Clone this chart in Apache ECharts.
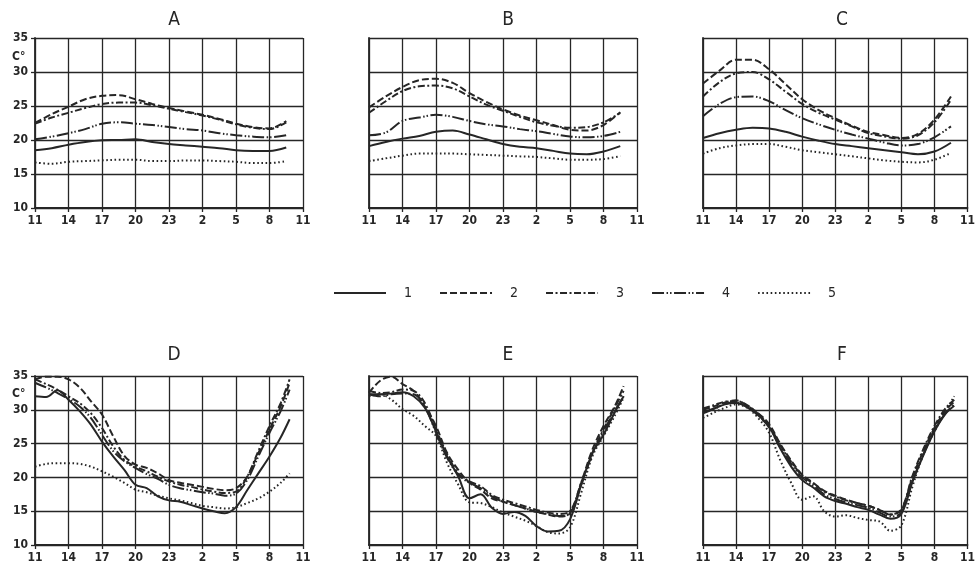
<!DOCTYPE html>
<html>
<head>
<meta charset="utf-8">
<script src="https://cdn.jsdelivr.net/npm/echarts@6/dist/echarts.min.js"></script>
<style>
  html, body { margin: 0; padding: 0; background: #fff; }
  #main { width: 978px; height: 570px; }
</style>
</head>
<body>
<div id="main"></div>
<script>
// hours after 11:00
var hoursTop = [0, 1.5, 3, 4.5, 6, 7.5, 9, 10.5, 12, 13.5, 15, 16.5, 18, 19.5, 21, 22.5];
var hoursBottom = [0, 1, 2, 3, 4, 5, 6, 7, 8, 9, 10, 11, 12, 13, 14, 15, 16, 17, 18, 19, 20, 21, 22, 22.8];
var tickLabels = ['11', '14', '17', '20', '23', '2', '5', '8', '11'];
var panelNames = ['A', 'B', 'C', 'D', 'E', 'F'];
var seriesNames = ['1', '2', '3', '4', '5'];

// panel A
var a1 = [18.5, 18.8, 19.3, 19.7, 19.95, 20, 20.1, 19.7, 19.4, 19.2, 19, 18.8, 18.5, 18.4, 18.4, 18.9];
var a2 = [22.5, 23.8, 24.9, 26, 26.5, 26.6, 26, 25.3, 24.7, 24.2, 23.7, 23.1, 22.4, 21.9, 21.7, 22.8];
var a3 = [22.4, 23.3, 24, 24.7, 25.3, 25.5, 25.5, 25.1, 24.6, 24.1, 23.6, 23, 22.3, 21.8, 21.6, 22.6];
var a4 = [20.1, 20.5, 21, 21.6, 22.4, 22.6, 22.4, 22.2, 21.9, 21.6, 21.4, 21, 20.7, 20.5, 20.4, 20.7];
var a5 = [16.7, 16.5, 16.8, 16.9, 17, 17.1, 17.1, 16.9, 16.9, 17, 17, 16.9, 16.8, 16.6, 16.6, 16.9];
// panel B
var b1 = [19.1, 19.7, 20.2, 20.6, 21.2, 21.4, 20.8, 20.1, 19.4, 19, 18.8, 18.4, 18, 17.9, 18.3, 19.1];
var b2 = [24.8, 26.4, 27.8, 28.8, 29, 28.4, 26.9, 25.6, 24.5, 23.6, 22.9, 22.2, 21.5, 21.4, 22.2, 24.1];
var b3 = [24, 25.7, 27.2, 27.9, 28, 27.6, 26.4, 25.2, 24.3, 23.4, 22.6, 22.1, 21.8, 21.9, 22.6, 24];
var b4 = [20.7, 21.1, 22.8, 23.3, 23.7, 23.4, 22.8, 22.3, 22, 21.6, 21.3, 20.9, 20.5, 20.4, 20.6, 21.2];
var b5 = [16.9, 17.3, 17.7, 18, 18, 18, 17.9, 17.8, 17.7, 17.6, 17.5, 17.3, 17.1, 17.1, 17.2, 17.6];
// panel C
var c1 = [20.3, 21, 21.5, 21.8, 21.7, 21.2, 20.5, 19.9, 19.4, 19.1, 18.8, 18.5, 18.2, 17.9, 18.3, 19.6];
var c2 = [28.3, 30.2, 31.8, 31.8, 30.4, 28.2, 26, 24.4, 23.2, 22.1, 21.2, 20.7, 20.3, 20.9, 23, 26.4];
var c3 = [26.4, 28.5, 29.8, 30, 28.9, 27.1, 25.3, 24, 23, 22, 21, 20.5, 20.2, 20.7, 22.6, 25.9];
var c4 = [23.5, 25.3, 26.3, 26.4, 25.7, 24.4, 23.2, 22.3, 21.5, 20.8, 20.2, 19.6, 19.2, 19.4, 20.4, 22];
var c5 = [18, 18.8, 19.2, 19.4, 19.4, 19, 18.5, 18.2, 17.9, 17.6, 17.3, 17, 16.8, 16.7, 17.1, 18.1];
// panel D
var d1 = [32, 31.9, 32.9, 31.5, 29.8, 27.8, 25.3, 23.1, 21.1, 18.9, 18.4, 17.2, 16.6, 16.4, 15.9, 15.4, 15, 14.7, 15.6, 18.1, 20.6, 23.1, 25.9, 28.6];
var d2 = [34.5, 34.9, 34.9, 34.5, 33.3, 31.3, 29.3, 26.1, 23.2, 21.9, 21.4, 20.6, 19.6, 19.2, 18.9, 18.6, 18.3, 18.1, 18.4, 20.1, 23.6, 27.1, 30.5, 34];
var d3 = [34.5, 33.8, 33, 32, 31, 29.5, 27.3, 24.6, 22.6, 21.6, 20.9, 20.1, 19.4, 18.9, 18.6, 18.2, 17.9, 17.7, 17.9, 20.1, 23.9, 27.6, 31, 34.5];
var d4 = [34, 33.3, 32.5, 31.6, 30.5, 28.8, 26.3, 23.9, 22.4, 21.4, 20.5, 19.8, 18.9, 18.4, 18.1, 17.8, 17.6, 17.3, 17.6, 19.6, 23.1, 26.6, 29.8, 33];
var d5 = [21.6, 22, 22.1, 22.1, 22, 21.6, 20.9, 20.1, 19.2, 18.2, 17.8, 17.3, 16.9, 16.6, 16.2, 15.8, 15.6, 15.4, 15.6, 16.2, 16.9, 17.9, 19.2, 20.6];
// panel E
var e1 = [32.3, 32.3, 32.4, 32.6, 32, 30.3, 26.8, 23.1, 20.1, 16.9, 17.5, 15.5, 14.6, 14.9, 14.3, 12.8, 12, 12.1, 13.8, 18.9, 23.6, 26.3, 29.6, 32];
var e2 = [32.5, 34.3, 34.9, 33.8, 32.8, 30.5, 27.6, 23.6, 21.1, 19.2, 18.2, 16.9, 16.4, 15.9, 15.4, 14.9, 14.5, 14.2, 14.7, 19.2, 24.1, 27.6, 30.5, 33.5];
var e3 = [32.8, 32.5, 32.6, 33, 32.8, 31, 27.1, 23.4, 20.6, 19.4, 18.7, 17.4, 16.7, 16.2, 15.7, 15.2, 14.8, 14.6, 15, 19.2, 23.6, 27.1, 30.3, 32.8];
var e4 = [32.3, 32, 32.3, 32.4, 32.3, 30.5, 26.6, 22.9, 20.4, 19.2, 18.4, 17.2, 16.4, 15.9, 15.4, 14.9, 14.6, 14.3, 14.7, 18.9, 23.4, 26.8, 29.8, 32];
var e5 = [32, 32.3, 31.5, 30.1, 29.1, 27.6, 26.1, 22.1, 18.9, 16.3, 16.2, 15.6, 14.8, 14.2, 13.6, 12.8, 11.9, 11.7, 12.6, 17.7, 23.1, 26.1, 29.1, 31.8];
// panel F
var f1 = [29.6, 30.2, 30.8, 31, 30.4, 29.2, 27.5, 24.3, 21.6, 19.6, 18.5, 17.2, 16.5, 16.1, 15.6, 15.2, 14.5, 13.9, 14.6, 19.3, 23.3, 26.8, 29.4, 30.6];
var f2 = [30, 30.5, 31.1, 31.4, 30.6, 29.5, 27.9, 25, 22.5, 20.4, 19.2, 18, 17.3, 16.7, 16.2, 15.8, 15.2, 14.5, 15.2, 20, 23.9, 27.3, 29.9, 31.2];
var f3 = [30.2, 30.7, 31.2, 31.3, 30.7, 29.4, 27.7, 24.8, 22.3, 20.3, 19.1, 17.9, 17.2, 16.6, 16.2, 15.8, 15.2, 14.5, 15.3, 20.2, 24.2, 27.6, 30.2, 31.5];
var f4 = [29.5, 30.1, 30.9, 31.1, 30.4, 29.2, 27.4, 24.5, 22, 20, 18.8, 17.5, 16.8, 16.3, 15.9, 15.5, 14.8, 14.2, 14.8, 19.5, 23.4, 27, 29.5, 30.8];
var f5 = [28.8, 29.6, 30.3, 30.8, 30.3, 28.8, 26.6, 22.6, 19.2, 16.7, 17.2, 15, 14.2, 14.4, 14, 13.7, 13.5, 12.1, 12.9, 18.6, 23.4, 26.8, 29.8, 32];

var panels = [
  { hours: hoursTop, lines: [a1, a2, a3, a4, a5] },
  { hours: hoursTop, lines: [b1, b2, b3, b4, b5] },
  { hours: hoursTop, lines: [c1, c2, c3, c4, c5] },
  { hours: hoursBottom, lines: [d1, d2, d3, d4, d5] },
  { hours: hoursBottom, lines: [e1, e2, e3, e4, e5] },
  { hours: hoursBottom, lines: [f1, f2, f3, f4, f5] }
];

var ink = '#262626';
var font = "'DejaVu Sans Condensed', 'DejaVu Sans', sans-serif";
var lineStyles = [
  { type: 'solid', width: 2 },
  { type: [7, 3], width: 2 },
  { type: [7, 2.5, 2, 2.5], width: 2 },
  { type: [12, 2.5, 1.5, 2, 1.5, 2.5], width: 2 },
  { type: [1.6, 2.6], width: 2 }
];

var lefts = [35, 369, 703];
var grids = [], xAxes = [], yAxes = [], titles = [], series = [];

panels.forEach(function (p, i) {
  var col = i % 3, row = Math.floor(i / 3);
  var top = row === 0 ? 38 : 376;
  var h = row === 0 ? 170 : 169;
  grids.push({ left: lefts[col], top: top, width: 268, height: h });
  titles.push({
    text: panelNames[i],
    left: lefts[col] + 134,
    textAlign: 'center',
    top: row === 0 ? 6 : 341,
    textStyle: { fontFamily: font, fontWeight: 'normal', fontSize: 19, color: ink }
  });
  xAxes.push({
    type: 'value', gridIndex: i, min: 0, max: 24, interval: 3,
    axisLine: { show: true, lineStyle: { color: ink, width: 1.8 } },
    axisTick: { show: true, length: 4, lineStyle: { color: ink, width: 1.3 } },
    splitLine: { show: true, lineStyle: { color: ink, width: 1.3 } },
    axisLabel: {
      margin: 7, color: ink, fontFamily: font, fontWeight: 'bold', fontSize: 12,
      formatter: function (v) { return tickLabels[Math.round(v / 3)]; }
    }
  });
  yAxes.push({
    type: 'value', gridIndex: i, min: 10, max: 35, interval: 5,
    axisLine: { show: true, lineStyle: { color: ink, width: 1.8 } },
    axisTick: { show: col === 0, length: 4, lineStyle: { color: ink, width: 1.3 } },
    splitLine: { show: true, lineStyle: { color: ink, width: 1.3 } },
    axisLabel: {
      show: col === 0, margin: 7, color: ink, fontFamily: font, fontWeight: 'bold', fontSize: 12
    }
  });
  p.lines.forEach(function (vals, k) {
    series.push({
      name: seriesNames[k],
      type: 'line',
      xAxisIndex: i, yAxisIndex: i,
      data: p.hours.map(function (hr, j) { return [hr, vals[j]]; }),
      smooth: 0.35,
      symbol: 'none',
      clip: true,
      lineStyle: Object.assign({ color: ink }, lineStyles[k]),
      itemStyle: { color: ink },
      z: 3
    });
  });
});

var chart = echarts.init(document.getElementById('main'));
chart.setOption({
  backgroundColor: '#fff',
  animation: false,
  title: titles,
  grid: grids,
  xAxis: xAxes,
  yAxis: yAxes,
  legend: {
    data: seriesNames,
    left: 333, top: 286, padding: 0,
    itemWidth: 52, itemHeight: 14, itemGap: 27,
    itemStyle: { opacity: 0 },
    textStyle: { fontFamily: font, fontSize: 14, color: ink, padding: [0, 0, 0, 13] }
  },
  graphic: [
    { type: 'text', left: 12, top: 51, style: { text: 'C°', fontFamily: font, fontWeight: 'bold', fontSize: 12, fill: ink } },
    { type: 'text', left: 12, top: 388, style: { text: 'C°', fontFamily: font, fontWeight: 'bold', fontSize: 12, fill: ink } }
  ],
  series: series
});
</script>
</body>
</html>
